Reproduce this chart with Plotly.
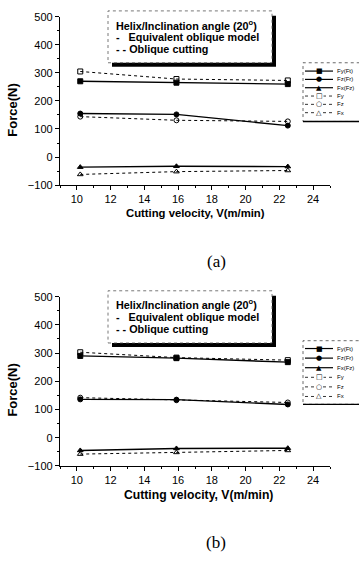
import plotly.graph_objects as go

W, H = 359, 562

# ---------------- data ----------------
velocity = [10.2, 15.9, 22.5]

# (a)
a_Fy_Ft = [270, 265, 260]
a_Fz_Fr = [155, 152, 112]
a_Fx_Fz = [-36, -33, -34]
a_Fy = [305, 278, 273]
a_Fz = [144, 131, 127]
a_Fx = [-62, -52, -48]

# (b)
b_Fy_Ft = [290, 282, 268]
b_Fz_Fr = [136, 135, 118]
b_Fx_Fz = [-45, -38, -37]
b_Fy = [303, 284, 275]
b_Fz = [142, 133, 125]
b_Fx = [-58, -52, -45]

series_names = ["Fy(Ft)", "Fz(Fr)", "Fx(Fz)", "Fy", "Fz", "Fx"]
series_symbols = ["square", "circle", "triangle-up", "square-open", "circle-open", "triangle-up-open"]
legend_glyphs = ["■", "●", "▲", "□", "○", "△"]
y_ticks = [-100, 0, 100, 200, 300, 400, 500]
x_ticks = [10, 12, 14, 16, 18, 20, 22, 24]

panels = [
    dict(data=[a_Fy_Ft, a_Fz_Fr, a_Fx_Fz, a_Fy, a_Fz, a_Fx], top=11, bottom=183, label="(a)"),
    dict(data=[b_Fy_Ft, b_Fz_Fr, b_Fx_Fz, b_Fy, b_Fz, b_Fx], top=297, bottom=470, label="(b)"),
]


def px(x):
    return x / W


def py(y):
    return 1 - y / H


fig = go.Figure()
annotations = []
shapes = []


def ann(text, x, y, size, family="Liberation Sans", xanchor="center", **kw):
    annotations.append(dict(text=text, x=px(x), y=py(y), xref="paper", yref="paper",
                            xanchor=xanchor, yanchor="middle", showarrow=False,
                            font=dict(family=family, size=size, color="black"), **kw))


for i, p in enumerate(panels):
    n = "" if i == 0 else str(i + 1)
    xa, ya = "x" + n, "y" + n
    for k, (vals, name, sym) in enumerate(zip(p["data"], series_names, series_symbols)):
        solid = k < 3
        fig.add_trace(go.Scatter(
            x=velocity, y=vals, name=name, xaxis=xa, yaxis=ya, mode="lines+markers",
            showlegend=False,
            line=dict(color="black", width=1.4 if solid else 1, dash="solid" if solid else "dot"),
            marker=dict(symbol=sym, size=5, color="black",
                        line=dict(color="black", width=1)),
        ))
    axis_common = dict(showline=True, linecolor="black", linewidth=1.3, ticks="outside",
                       tickcolor="black", ticklen=4, showgrid=False, zeroline=False,
                       tickfont=dict(family="Liberation Sans", size=11, color="black"))
    fig.update_layout(**{
        ("xaxis" + n): dict(domain=[px(60), px(330)], range=[9, 25], tickvals=x_ticks,
                            anchor=ya, minor=dict(ticks="outside", ticklen=2, dtick=1,
                                                  tickcolor="black"), **axis_common),
        ("yaxis" + n): dict(domain=[py(p["bottom"]), py(p["top"])], range=[-100, 500],
                            tickvals=y_ticks, anchor=xa,
                            minor=dict(ticks="outside", ticklen=2, dtick=50,
                                       tickcolor="black"), **axis_common),
    })

    off = p["top"] - 11  # pixel offset of this panel
    sc = (p["bottom"] - p["top"]) / 172.0

    # axis titles
    ann("<b>Cutting velocity, V(m/min)</b>", 195 if i == 0 else 198,
        p["bottom"] + 29 + (1 if i else 0), 11.3 if i == 0 else 12.2)
    ann("<b>Force(N)</b>", 13, p["top"] + 96, 13, textangle=-90)
    ann(p["label"], 216, p["bottom"] + 78, 17, family="Liberation Serif")

    # info box with shadow
    bt, bb = off + 5, off + 57 * sc + 1
    shapes.append(dict(type="rect", xref="paper", yref="paper", x0=px(112), x1=px(276),
                       y0=py(bb + 4), y1=py(bt + 5), fillcolor="black", line=dict(width=0)))
    shapes.append(dict(type="rect", xref="paper", yref="paper", x0=px(108), x1=px(272),
                       y0=py(bb), y1=py(bt), fillcolor="white",
                       line=dict(color="#555", width=0.8, dash="dot")))
    box_lines = ["<b>Helix/Inclination angle (20<sup>o</sup>)</b>",
                 "<b>-   Equivalent oblique model</b>",
                 "<b>- - Oblique cutting</b>"]
    for j, t in enumerate(box_lines):
        ann(t, 114, off + 19 + j * 12.5 * sc, 10.8, xanchor="left")

    # legend box
    if i == 0:
        lt, lb, row0, gap = 58, 118, 66.5, 8.5
    else:
        lt, lb, row0, gap = 342, 407, 350, 9.8
    shapes.append(dict(type="rect", xref="paper", yref="paper", x0=px(303), x1=px(362),
                       y0=py(lb), y1=py(lt), fillcolor="white",
                       line=dict(color="#444", width=0.8, dash="dot")))
    shapes.append(dict(type="line", xref="paper", yref="paper", x0=px(303), x1=px(359),
                       y0=py(lb), y1=py(lb), line=dict(color="black", width=1.3)))
    for k, (name, g) in enumerate(zip(series_names, legend_glyphs)):
        yy = row0 + k * gap
        shapes.append(dict(type="line", xref="paper", yref="paper", x0=px(305), x1=px(333),
                           y0=py(yy), y1=py(yy),
                           line=dict(color="black", width=1.2 if k < 3 else 0.8,
                                     dash="solid" if k < 3 else "dot")))
        extra = dict(bgcolor="white") if k >= 3 else {}
        ann(g, 319, yy, 7, family="DejaVu Sans", borderpad=0, **extra)
        ann(name, 335, yy, 6.0, xanchor="left")

fig.update_layout(width=W, height=H, margin=dict(l=0, r=0, t=0, b=0),
                  paper_bgcolor="white", plot_bgcolor="white", showlegend=False,
                  annotations=annotations, shapes=shapes)

fig.write_html("out.html")
